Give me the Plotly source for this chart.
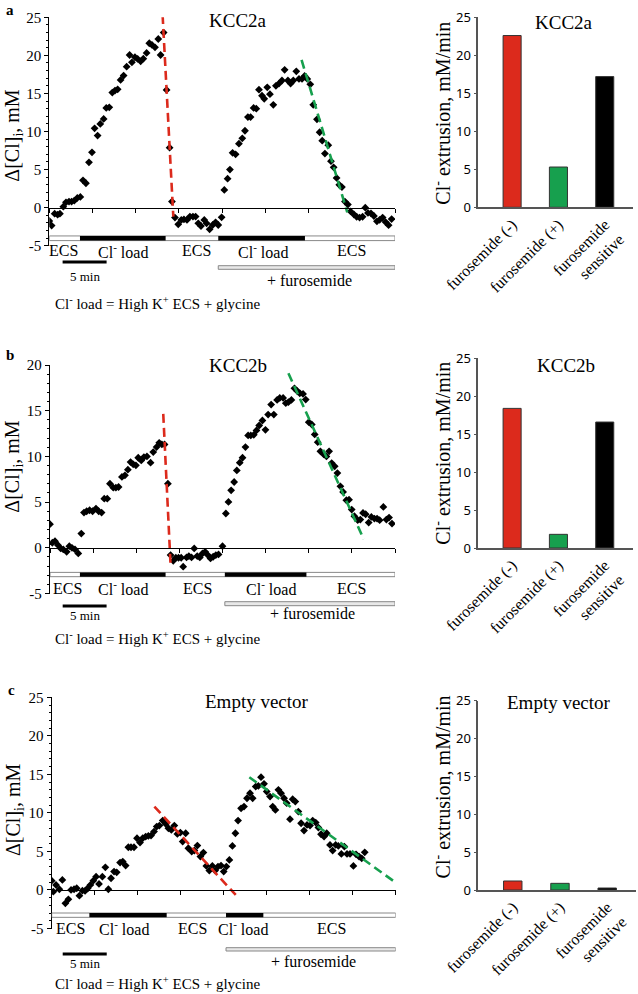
import plotly.graph_objects as go

# ---------------- DATA ----------------
# Panel a (KCC2a): time (min), delta [Cl]i (mM)
t_a = [0.0, 0.27, 0.62, 0.96, 1.23, 1.62, 1.93, 2.28, 2.58, 2.89, 3.24, 3.59, 3.90, 4.24, 4.59, 4.94,
       5.24, 5.59, 5.90, 6.29, 6.59, 6.94, 7.29, 7.60, 7.91, 8.25, 8.60, 8.95, 9.29, 9.56, 9.91, 10.22,
       10.57, 10.88, 11.26, 11.57, 11.88, 12.23, 12.61, 12.88, 13.23, 13.57, 13.92, 14.19, 14.54, 14.92,
       15.27, 15.58, 15.93, 16.27, 16.62, 16.93, 17.24, 17.55, 17.93, 18.20, 18.55, 18.90, 19.24, 19.55,
       19.94, 20.25, 20.63, 20.90, 21.21, 21.56, 21.94, 22.33, 22.64, 22.98, 23.29, 23.64, 23.95, 24.26,
       24.61, 24.87, 25.22, 25.53, 25.92, 26.22, 26.57, 26.92, 27.23, 27.61, 27.92, 28.23, 28.58, 28.89,
       29.24, 29.54, 29.85, 30.20, 30.54, 30.97, 31.28, 31.58, 31.89, 32.28, 32.59, 32.90, 33.24, 33.55,
       33.86, 34.21, 34.55, 34.86, 35.25, 35.56, 35.90, 36.25, 36.56, 36.87, 37.22, 37.56, 37.91, 38.22,
       38.57, 38.91, 39.26, 39.61]
y_a = [-1.75, -2.36, -0.79, -0.92, -0.79, 0.13, 0.70, 0.79, 0.79, 0.92, 1.27, 1.40, 3.59, 3.20, 5.95, 7.27,
       10.42, 9.46, 10.99, 11.65, 13.09, 13.18, 15.11, 15.37, 15.54, 16.77, 17.34, 18.52, 20.05, 19.09, 19.75, 19.53,
       19.22, 19.57, 20.32, 21.59, 21.37, 21.06, 22.15, 20.05, 22.99, 15.46, 7.88, 0.79, -1.31, -2.19,
       -1.62, -1.53, -1.62, -1.18, -1.18, -1.18, -2.06, -2.41, -1.62, -2.06, -2.85, -2.28, -1.93, -2.28,
       -1.27, 2.32, 3.80, 5.00, 7.20, 7.00, 8.40, 9.10, 10.10, 11.90, 11.90, 13.10, 13.00, 15.50,
       14.70, 14.30, 15.80, 14.90, 13.50, 16.00, 16.30, 16.70, 18.10, 16.70, 16.30, 16.70, 17.90, 16.90,
       16.90, 17.30, 16.90, 16.20, 13.50, 11.60, 9.90, 8.80, 7.10, 8.20, 6.10, 5.30, 3.90, 3.00,
       2.70, 0.80, 0.40, -0.50, -0.90, -1.20, -1.30, -1.20, 0.00, -0.70, -0.75, -1.10, -1.80, -1.60,
       -1.30, -1.90, -2.30, -1.50]

# Panel b (KCC2b)
t_b = [0.0, 0.27, 0.58, 0.93, 1.24, 1.54, 1.93, 2.24, 2.55, 2.90, 3.28, 3.63, 3.94, 4.25, 4.59, 4.94,
       5.33, 5.64, 5.98, 6.29, 6.64, 6.95, 7.34, 7.64, 7.95, 8.34, 8.69, 9.03, 9.34, 9.65, 9.96, 10.23,
       10.58, 10.89, 11.24, 11.66, 11.97, 12.36, 12.66, 12.97, 13.28, 13.67, 13.98, 14.29, 14.59, 14.90,
       15.21, 15.44, 15.83, 16.10, 16.41, 16.72, 17.07, 17.37, 17.68, 17.99, 18.30, 18.61, 18.92, 19.23,
       19.54, 20.00, 20.39, 20.69, 21.00, 21.35, 21.66, 22.00, 22.32, 22.66, 22.97, 23.28, 23.63, 23.94,
       24.25, 24.63, 24.98, 25.29, 25.64, 25.95, 26.33, 26.64, 27.03, 27.34, 27.64, 27.99, 28.34, 28.69,
       28.96, 29.34, 29.65, 30.00, 30.35, 30.69, 31.04, 31.35, 31.74, 32.05, 32.36, 32.66, 33.01, 33.32,
       33.67, 33.98, 34.36, 34.67, 34.98, 35.29, 35.68, 35.98, 36.29, 36.60, 36.95, 37.26, 37.61, 37.92,
       38.22, 38.65, 39.00, 39.31, 39.65]
y_b = [2.58, 0.55, 0.73, 0.29, -0.07, -0.18, -0.44, 0.18, 0.00, -0.18, -0.62, 1.56, 3.85, 4.00, 4.11, 4.00,
       4.29, 4.00, 3.85, 5.38, 5.38, 7.02, 6.58, 6.58, 6.65, 7.75, 7.93, 8.55, 9.38, 9.13, 9.02, 9.85,
       9.56, 9.93, 10.00, 9.31, 10.47, 11.02, 11.49, 11.31, 11.31, 7.02, -0.80, -1.42, -1.09, -1.09,
       -1.09, -2.07, -1.05, -0.91, -1.05, -0.07, -0.91, -1.05, -0.62, -0.44, -0.80, -1.16, -0.98, -0.80,
       -0.73, 0.18, 3.75, 5.02, 6.29, 7.20, 8.47, 9.31, 9.85, 11.02, 12.29, 12.29, 12.36, 12.84,
       13.38, 13.93, 12.91, 14.58, 15.67, 14.58, 16.18, 16.40, 16.40, 15.82, 15.93, 16.18, 17.45, 17.13,
       16.91, 16.84, 16.22, 13.75, 13.49, 12.40, 11.56, 10.55, 10.22, 10.00, 10.55, 9.27, 8.91, 8.18,
       6.73, 6.11, 5.20, 5.27, 4.18, 3.45, 3.02, 3.09, 3.82, 3.67, 2.76, 3.38, 3.20, 3.20,
       3.02, 4.47, 3.09, 3.31, 2.65]

# Panel c (Empty vector)
t_c = [0.0, 0.19, 0.50, 0.89, 1.24, 1.59, 1.94, 2.25, 2.60, 2.91, 3.22, 3.57, 3.88, 4.19, 4.50, 4.84,
       5.16, 5.50, 5.89, 6.24, 6.59, 6.90, 7.25, 7.56, 7.95, 8.26, 8.60, 8.91, 9.22, 9.57, 9.92, 10.27,
       10.58, 10.93, 11.24, 11.55, 11.90, 12.21, 12.52, 12.91, 13.26, 13.57, 13.91, 14.26, 14.61, 14.96,
       15.23, 15.58, 15.89, 16.28, 16.59, 16.94, 17.29, 17.64, 17.98, 18.33, 18.68, 19.00, 19.34, 19.69,
       20.00, 20.31, 20.66, 21.01, 21.36, 21.67, 22.02, 22.36, 22.71, 23.06, 23.37, 23.72, 24.03, 24.34,
       24.69, 25.00, 25.39, 25.70, 26.01, 26.36, 26.67, 27.02, 27.33, 27.71, 28.02, 28.33, 28.68, 29.00,
       29.34, 29.69, 30.04, 30.35, 30.70, 31.01, 31.32, 31.67, 31.98, 32.36, 32.67, 33.02, 33.33, 33.68,
       34.03, 34.34, 34.69, 35.08, 35.39, 35.74, 36.05, 36.40]
y_c = [1.21, -0.22, 0.65, 0.09, 1.30, -1.73, -1.21, 0.00, 0.09, 0.22, -0.74, -0.09, -0.13, 0.22, 0.65, 1.21,
       1.73, 0.78, 1.73, 2.94, 0.09, 1.52, 2.38, 2.29, 3.55, 3.68, 3.16, 5.54, 5.54, 5.54, 6.71, 6.15,
       6.71, 6.93, 7.01, 7.06, 7.58, 8.23, 8.35, 9.00, 8.57, 8.01, 7.79, 8.35, 7.27, 7.45,
       6.28, 7.36, 5.41, 4.98, 5.11, 5.76, 4.33, 4.85, 3.12, 2.51, 3.12, 2.51, 3.03, 3.16,
       2.38, 3.03, 3.90, 5.71, 7.36, 9.00, 10.60, 10.82, 11.90, 12.55, 11.90, 13.42, 13.50, 14.63,
       13.77, 12.77, 12.12, 10.82, 10.39, 12.99, 12.55, 11.90, 11.26, 9.18, 11.77, 11.47, 10.17, 8.66,
       7.71, 8.44, 8.35, 9.00, 8.74, 8.10, 7.23, 6.93, 7.36, 5.84, 5.11, 5.84, 5.71, 4.68,
       5.63, 4.68, 4.68, 3.12, 4.63, 4.33, 4.11, 4.89]

# Dashed extrusion fits: [t_start, t_end], [y_start, y_end]
red_fit_t = {"a": [13.11, 14.35], "b": [13.13, 13.98], "c": [11.94, 21.40]}
red_fit_y = {"a": [25.3, -1.18], "b": [14.65, -1.89], "c": [10.82, -0.65]}
green_fit_t = {"a": [29.19, 34.48], "b": [27.64, 36.37], "c": [22.98, 39.84]}
green_fit_y = {"a": [19.4, -0.61], "b": [19.09, 0.95], "c": [14.63, 1.08]}

# Protocol: Cl- load periods (min), furosemide start (min), 5-min scale bar (min)
load_periods = {"a": [[3.55, 13.46], [19.55, 29.58]],
                "b": [[3.47, 13.40], [20.27, 29.73]],
                "c": [[4.38, 13.37], [20.27, 24.61]]}
furosemide_start = {"a": 19.55, "b": 20.27, "c": 20.27}
scale_bar = {"a": [1.54, 6.63], "b": [1.47, 6.56], "c": [1.28, 6.40]}
protocol_labels = ["ECS", "Cl<sup>-</sup> load", "ECS", "Cl<sup>-</sup> load", "ECS"]
protocol_label_t = {"a": [1.70, 8.56, 17.05, 24.76, 34.98],
                    "b": [2.05, 8.49, 17.10, 25.68, 35.00],
                    "c": [2.13, 8.45, 16.40, 22.20, 32.48]}

# Bar charts: Cl- extrusion (mM/min)
bar_cats = ["furosemide (-)", "furosemide (+)", "furosemide<br>sensitive"]
bar_a = [22.6, 5.3, 17.2]
bar_b = [18.4, 1.8, 16.6]
bar_c = [1.19, 0.88, 0.26]

titles = {"a": "KCC2a", "b": "KCC2b", "c": "Empty vector"}
left_yticks = {"a": [-5, 0, 5, 10, 15, 20, 25], "b": [-5, 0, 5, 10, 15, 20], "c": [-5, 0, 5, 10, 15, 20, 25]}
bar_yticks = [0, 5, 10, 15, 20, 25]
time_ticks = [0, 5, 10, 15, 20, 25, 30, 35, 40]

# ---------------- STYLE / LAYOUT ----------------
W, H = 638, 994
RED, GREEN = "#dc2a1c", "#17a04e"
SERIF = "Liberation Serif"
SANS = "Noto Sans"


def fx(px):
    return px / W


def fy(px):
    return 1 - px / H


panels = {
    "a": dict(n=1, xd=[49.3, 395], yd=[245.7, 17.3], yr=[-5, 25], bx=[478.3, 633], by=[207.3, 17.3],
              stim=[-4.33, -3.72], t=t_a, y=y_a, bars=bar_a,
              lab_y=250.7, scale_y=262.0, five_y=276.7, fur_y=[265.7, 269.3], fur_txt=280.0, note_y=303.3,
              note_t=0.46, title_l=(238, 21), title_r=(564, 22), letter=(10, 10),
              ytl=(14, 135.7), ytr=(441.7, 113)),
    "b": dict(n=3, xd=[50, 395], yd=[593.5, 365], yr=[-5, 20], bx=[478.3, 633], by=[548, 358.3],
              stim=[-3.16, -2.69], t=t_b, y=y_b, bars=bar_b,
              lab_y=588.3, scale_y=606.0, five_y=615.0, fur_y=[601.7, 605.7], fur_txt=613.3, note_y=638.3,
              note_t=0.39, title_l=(238, 365), title_r=(566, 365.7), letter=(10, 355),
              ytl=(14, 466.7), ytr=(441.7, 453)),
    "c": dict(n=5, xd=[51.7, 395.7], yd=[928.5, 697.3], yr=[-5, 25], bx=[478.3, 636], by=[890, 700.7],
              stim=[-3.55, -2.99], t=t_c, y=y_c, bars=bar_c,
              lab_y=928.3, scale_y=954.0, five_y=963.3, fur_y=[947.7, 951.0], fur_txt=961.0, note_y=983.3,
              note_t=0.19, title_l=(256.7, 701.7), title_r=(559.3, 702.3), letter=(11.7, 690),
              ytl=(14, 810), ytr=(441.7, 786.7)),
}

fig = go.Figure()
layout = dict(width=W, height=H, margin=dict(l=0, r=0, t=0, b=0, pad=0, autoexpand=False),
              paper_bgcolor="white", plot_bgcolor="white", showlegend=False,
              font=dict(family=SERIF, color="black"))
shapes, annotations = [], []


def ann(text, x, y, xref="paper", yref="paper", size=15, xanchor="center", **kw):
    d = dict(text=text, x=x, y=y, xref=xref, yref=yref, showarrow=False, xanchor=xanchor,
             yanchor="middle", font=dict(family=SERIF, size=size, color="black"))
    d.update(kw)
    annotations.append(d)


for key, p in panels.items():
    n = p["n"]
    xl, yl = f"x{'' if n == 1 else n}", f"y{'' if n == 1 else n}"
    xr, yr_ = f"x{n + 1}", f"y{n + 1}"
    xl_name, yl_name = f"xaxis{'' if n == 1 else n}", f"yaxis{'' if n == 1 else n}"
    xr_name, yr_name = f"xaxis{n + 1}", f"yaxis{n + 1}"

    ydom = [fy(p["yd"][0]), fy(p["yd"][1])]
    y0, y1 = p["yr"]
    zero_pos = ydom[0] + (ydom[1] - ydom[0]) * (0 - y0) / (y1 - y0)

    # scatter of [Cl]i
    fig.add_trace(go.Scatter(x=p["t"], y=p["y"], mode="markers", xaxis=xl, yaxis=yl,
                             marker=dict(symbol="diamond", size=6, color="black", line=dict(width=0))))
    fig.add_trace(go.Scatter(x=red_fit_t[key], y=red_fit_y[key], mode="lines", xaxis=xl, yaxis=yl,
                             line=dict(color=RED, width=2.6, dash="9px,5px")))
    fig.add_trace(go.Scatter(x=green_fit_t[key], y=green_fit_y[key], mode="lines", xaxis=xl, yaxis=yl,
                             line=dict(color=GREEN, width=2.6, dash="9px,5px")))

    layout[xl_name] = dict(domain=[fx(p["xd"][0]), fx(p["xd"][1])], range=[0, 40], anchor="free",
                           position=zero_pos, showline=True, linecolor="black", linewidth=1.3,
                           ticks="outside", tickvals=time_ticks, ticklen=4, tickcolor="black",
                           showticklabels=False, showgrid=False, zeroline=False, fixedrange=True,
                           automargin=False)
    yt = left_yticks[key]
    layout[yl_name] = dict(domain=ydom, range=p["yr"], anchor=xl, showline=True, linecolor="black",
                           linewidth=1.3, ticks="outside", ticklen=4, tickcolor="black",
                           tickvals=yt, ticktext=[str(v) for v in yt],
                           tickfont=dict(family=SERIF, size=15, color="black"),
                           minor=dict(tickmode="linear", tick0=0, dtick=1, ticks="outside", ticklen=2,
                                      tickcolor="black"),
                           showgrid=False, zeroline=False, fixedrange=True, automargin=False)

    # bar chart
    fig.add_trace(go.Bar(x=bar_cats, y=p["bars"], xaxis=xr, yaxis=yr_, width=0.39,
                         marker=dict(color=[RED, GREEN, "black"], line=dict(color="#333", width=1))))
    layout[xr_name] = dict(domain=[fx(p["bx"][0]), fx(p["bx"][1])], type="category",
                           range=[-0.73, 2.61], anchor=yr_, showline=True, linecolor="#555",
                           linewidth=1.5, ticks="", tickangle=-45,
                           tickfont=dict(family=SERIF, size=16, color="black"), showgrid=False,
                           fixedrange=True, automargin=False)
    layout[yr_name] = dict(domain=[fy(p["by"][0]), fy(p["by"][1])], range=[0, 25], anchor=xr,
                           showline=True, linecolor="#555", linewidth=1.5, ticks="outside", ticklen=3,
                           tickcolor="#555", tickvals=bar_yticks,
                           tickfont=dict(family=SANS, size=13, color="black"), showgrid=False,
                           zeroline=False, fixedrange=True, automargin=False)

    # protocol bar (inside plot range)
    shapes.append(dict(type="rect", xref=xl, yref=yl, x0=0, x1=40, y0=p["stim"][0], y1=p["stim"][1],
                       fillcolor="white", line=dict(color="#888", width=1), layer="above"))
    for a0, a1 in load_periods[key]:
        shapes.append(dict(type="rect", xref=xl, yref=yl, x0=a0, x1=a1, y0=p["stim"][0],
                           y1=p["stim"][1], fillcolor="black", line=dict(width=0), layer="above"))
    # scale bar and furosemide bar (below the axes)
    s0, s1 = scale_bar[key]
    shapes.append(dict(type="line", xref=xl, yref="paper", x0=s0, x1=s1, y0=fy(p["scale_y"]),
                       y1=fy(p["scale_y"]), line=dict(color="black", width=3)))
    shapes.append(dict(type="rect", xref=xl, yref="paper", x0=furosemide_start[key], x1=40,
                       y0=fy(p["fur_y"][1]), y1=fy(p["fur_y"][0]), fillcolor="#e8e8e8",
                       line=dict(color="#888", width=1)))

    for lab, lt in zip(protocol_labels, protocol_label_t[key]):
        ann(lab, lt, fy(p["lab_y"]), xref=xl, size=16)
    ann("5 min", (s0 + s1) / 2, fy(p["five_y"]), xref=xl, size=13)
    ann("+ furosemide", (furosemide_start[key] + 40) / 2 + 0.3, fy(p["fur_txt"]), xref=xl, size=16)
    ann("Cl<sup>-</sup> load = High K<sup>+</sup> ECS + glycine", p["note_t"], fy(p["note_y"]), xref=xl,
        size=15, xanchor="left")
    # titles
    ann(titles[key], fx(p["title_l"][0]), fy(p["title_l"][1]), size=19)
    ann(titles[key], fx(p["title_r"][0]), fy(p["title_r"][1]), size=19)
    ann(f"<b>{key}</b>", fx(p["letter"][0]), fy(p["letter"][1]), size=15)
    # axis titles
    ann("Δ[Cl]<sub>i</sub>, mM", fx(p["ytl"][0]), fy(p["ytl"][1]), size=20, textangle=-90)
    ann("Cl<sup>-</sup> extrusion, mM/min", fx(p["ytr"][0]), fy(p["ytr"][1]), size=20, textangle=-90)

layout["shapes"] = shapes
layout["annotations"] = annotations
fig.update_layout(**layout)
fig.write_html("out.html", post_script="document.body.style.margin='0';",
               config={"displayModeBar": False})
